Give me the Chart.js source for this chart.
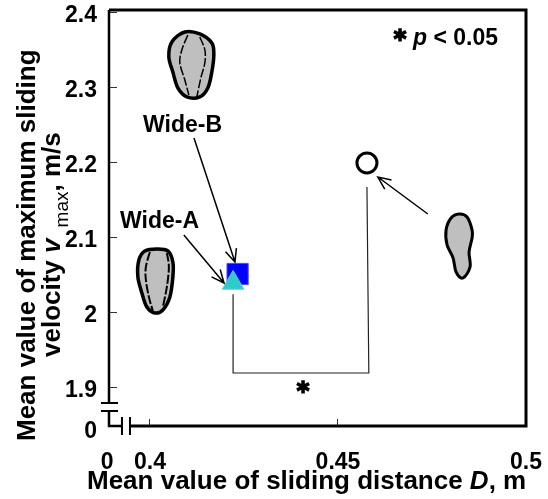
<!DOCTYPE html>
<html>
<head>
<meta charset="utf-8">
<title>Sliding distance and velocity</title>
<script src="https://cdn.jsdelivr.net/npm/chart.js@4/dist/chart.umd.min.js"></script>
<style>
html, body { margin: 0; padding: 0; background: #fff; }
canvas { display: block; }
</style>
</head>
<body>
<canvas id="chart" width="548" height="499"></canvas>
<script>
// values
const seriesNames = ["Wide-A", "Wide-B", "Narrow"];
const distance = [0.4221, 0.4233, 0.4577];
const velocity = [2.04, 2.052, 2.2];

const bracketX = [0.4221, 0.4221, 0.4582, 0.4577];
const bracketY = [2.025, 1.92, 1.92, 2.168];

// the lowest tick on both axes stands for 0, below the axis break
const xTickValues = [0.3886, 0.4, 0.45, 0.5];
const xTickLabels = ["0", "0.4", "0.45", "0.5"];
const yTickValues = [1.8447, 1.9, 2, 2.1, 2.2, 2.3, 2.4];
const yTickLabels = ["0", "1.9", "2", "2.1", "2.2", "2.3", "2.4"];

const xMin = 0.3891, xMax = 0.5;
const yMin = 1.8493, yMax = 2.404;
const xBreak = [0.39255, 0.39468];
const yBreak = [1.8693, 1.88];

const FONT = '"Liberation Sans", Arial, sans-serif';

// outlines of the footprints, offsets from the anchor
const shoeB = [[-2,-33],[13,-31],[25,-22],[27,-10],[25,7],[21,23],[13,32],[0,32],[-9,23],[-14,7],[-18,-8],[-15,-23]];
const shoeBLines = [[[1,-30],[-5,-15],[-7,-2],[-2,15],[2,30]], [[13,-28],[18,-15],[18,-2],[14,13],[10,32]]];
const shoeA = [[2,-32],[13,-30],[18,-19],[18,-4],[15,16],[8,29],[0,32],[-8,26],[-13,12],[-17,-4],[-16,-21],[-10,-30]];
const shoeALines = [[[-5,-29],[-9,-14],[-9,-1],[-6,16],[-2,30]], [[12,-28],[14,-14],[12,6],[8,26]]];
const shoeN = [[0,-31],[8,-28],[13,-15],[13,-7],[10,7],[11,22],[4,33],[-3,27],[-6,13],[-12,0],[-13,-15],[-8,-27]];

function closedCurve(ctx, x, y, pts) {
    const n = pts.length;
    ctx.beginPath();
    ctx.moveTo(x + pts[0][0], y + pts[0][1]);
    for (let i = 0; i < n; i++) {
        const p0 = pts[(i + n - 1) % n], p1 = pts[i], p2 = pts[(i + 1) % n], p3 = pts[(i + 2) % n];
        ctx.bezierCurveTo(
            x + p1[0] + (p2[0] - p0[0]) / 6, y + p1[1] + (p2[1] - p0[1]) / 6,
            x + p2[0] - (p3[0] - p1[0]) / 6, y + p2[1] - (p3[1] - p1[1]) / 6,
            x + p2[0], y + p2[1]);
    }
    ctx.closePath();
}

function openCurve(ctx, x, y, pts) {
    ctx.beginPath();
    ctx.moveTo(x + pts[0][0], y + pts[0][1]);
    for (let i = 0; i < pts.length - 1; i++) {
        const p0 = pts[Math.max(i - 1, 0)], p1 = pts[i], p2 = pts[i + 1], p3 = pts[Math.min(i + 2, pts.length - 1)];
        ctx.bezierCurveTo(
            x + p1[0] + (p2[0] - p0[0]) / 6, y + p1[1] + (p2[1] - p0[1]) / 6,
            x + p2[0] - (p3[0] - p1[0]) / 6, y + p2[1] - (p3[1] - p1[1]) / 6,
            x + p2[0], y + p2[1]);
    }
}

function drawShoe(ctx, x, y, outline, inner, width, innerWidth) {
    closedCurve(ctx, x, y, outline);
    ctx.fillStyle = "#bfbfbf";
    ctx.fill();
    ctx.strokeStyle = "#000";
    ctx.lineWidth = width;
    ctx.stroke();
    ctx.lineWidth = innerWidth;
    ctx.setLineDash([9, 2]);
    inner.forEach(line => {
        openCurve(ctx, x, y, line);
        ctx.stroke();
    });
    ctx.setLineDash([]);
}

function drawArrow(ctx, x1, y1, x2, y2) {
    const a = Math.atan2(y2 - y1, x2 - x1), len = 14, spread = 0.42;
    ctx.strokeStyle = "#000";
    ctx.lineWidth = 1.5;
    ctx.beginPath();
    ctx.moveTo(x1, y1);
    ctx.lineTo(x2, y2);
    ctx.moveTo(x2 - len * Math.cos(a - spread), y2 - len * Math.sin(a - spread));
    ctx.lineTo(x2, y2);
    ctx.lineTo(x2 - len * Math.cos(a + spread), y2 - len * Math.sin(a + spread));
    ctx.stroke();
}

// text made of several pieces with different fonts, starting at x,y
function drawRuns(ctx, runs, x, y) {
    ctx.textAlign = "left";
    ctx.textBaseline = "alphabetic";
    ctx.fillStyle = "#000";
    let pos = x;
    runs.forEach(r => {
        ctx.font = r.font;
        ctx.fillText(r.text, pos, y + (r.dy || 0));
        pos += ctx.measureText(r.text).width;
    });
}

// the asterisks are heavier than any installed glyph, so thicken them
function drawStar(ctx, x, y) {
    ctx.font = 'bold 24px "DejaVu Sans"';
    ctx.textAlign = "center";
    ctx.textBaseline = "alphabetic";
    ctx.fillStyle = "#000";
    ctx.strokeStyle = "#000";
    ctx.lineWidth = 1.6;
    ctx.fillText("*", x, y);
    ctx.strokeText("*", x, y);
}

const annotations = {
    id: "annotations",
    afterDatasetsDraw(chart) {
        const ctx = chart.ctx, sx = chart.scales.x, sy = chart.scales.y, area = chart.chartArea;
        const px = v => sx.getPixelForValue(v), py = v => sy.getPixelForValue(v);

        // frame with the two axis breaks
        ctx.save();
        ctx.strokeStyle = "#000";
        ctx.lineCap = "butt";
        ctx.lineWidth = 3;
        ctx.beginPath();
        ctx.moveTo(px(xBreak[1]), area.bottom);
        ctx.lineTo(area.right, area.bottom);
        ctx.moveTo(area.right, area.bottom + 1.5);
        ctx.lineTo(area.right, area.top - 1.5);
        ctx.moveTo(area.right + 1.5, area.top);
        ctx.lineTo(area.left, area.top);
        ctx.stroke();
        ctx.lineWidth = 2.5;
        ctx.beginPath();
        ctx.moveTo(area.left, area.top);
        ctx.lineTo(area.left, py(yBreak[1]));
        ctx.moveTo(area.left, py(yBreak[0]));
        ctx.lineTo(area.left, area.bottom);
        ctx.lineTo(px(xBreak[0]), area.bottom);
        ctx.stroke();
        ctx.lineWidth = 2;
        ctx.beginPath();
        yBreak.forEach(v => {
            ctx.moveTo(area.left - 8, py(v));
            ctx.lineTo(area.left + 9, py(v));
        });
        xBreak.forEach(v => {
            ctx.moveTo(px(v), area.bottom - 9);
            ctx.lineTo(px(v), area.bottom + 9);
        });
        ctx.stroke();

        drawShoe(ctx, px(0.4098), py(2.3307), shoeB, shoeBLines, 3.5, 1.5);
        drawShoe(ctx, px(0.4013), py(2.0427), shoeA, shoeALines, 3.5, 2);
        drawShoe(ctx, px(0.4822), py(2.0907), shoeN, [], 3, 1);

        drawArrow(ctx, px(0.4117), py(2.2333), px(0.4226), py(2.068));
        drawArrow(ctx, px(0.409), py(2.104), px(0.4197), py(2.04));
        drawArrow(ctx, px(0.4739), py(2.132), px(0.4606), py(2.1813));

        const bold = "bold 23px " + FONT;
        ctx.font = bold;
        ctx.fillStyle = "#000";
        ctx.textAlign = "left";
        ctx.textBaseline = "alphabetic";
        ctx.fillText("Wide-B", 143, 132);
        ctx.fillText("Wide-A", 120, 228);

        drawStar(ctx, 400, 47);
        drawRuns(ctx, [
            { text: "p", font: "italic bold 23px " + FONT },
            { text: " < 0.05", font: bold }
        ], 413, 45);
        drawStar(ctx, px(0.4407), 399);

        // axis titles
        drawRuns(ctx, [
            { text: "Mean value of sliding distance ", font: "bold 26px " + FONT },
            { text: "D", font: "italic bold 26px " + FONT },
            { text: ", m", font: "bold 26px " + FONT }
        ], 87, 489);

        ctx.save();
        ctx.translate(35, 441);
        ctx.rotate(-Math.PI / 2);
        drawRuns(ctx, [{ text: "Mean value of maximum sliding", font: "bold 26px " + FONT }], 0, 0);
        ctx.restore();

        ctx.save();
        ctx.translate(60, 357);
        ctx.rotate(-Math.PI / 2);
        drawRuns(ctx, [
            { text: "velocity ", font: "bold 26px " + FONT },
            { text: "v", font: "italic bold 26px " + FONT },
            { text: " ", font: "bold 40px " + FONT },
            { text: "max", font: "19px " + FONT, dy: 8 },
            { text: ", m/s", font: "bold 26px " + FONT }
        ], 0, 0);
        ctx.restore();
        ctx.restore();
    }
};

new Chart(document.getElementById("chart"), {
    type: "scatter",
    data: {
        datasets: [
            {
                label: seriesNames[0],
                data: [{ x: distance[0], y: velocity[0] }],
                pointStyle: "triangle", pointRadius: 12.5,
                backgroundColor: "#2fcbcb", borderColor: "#55d5d5", borderWidth: 1
            },
            {
                label: seriesNames[1],
                data: [{ x: distance[1], y: velocity[1] }],
                pointStyle: "rect", pointRadius: 15,
                backgroundColor: "#0000ff", borderColor: "#4a4aff", borderWidth: 1
            },
            {
                label: seriesNames[2],
                data: [{ x: distance[2], y: velocity[2] }],
                pointStyle: "circle", pointRadius: 10,
                backgroundColor: "#fff", borderColor: "#000", borderWidth: 3
            },
            {
                label: "p",
                data: bracketX.map((x, i) => ({ x: x, y: bracketY[i] })),
                showLine: true, pointRadius: 0,
                borderColor: "#222", borderWidth: 1.2, tension: 0
            }
        ]
    },
    options: {
        responsive: false,
        animation: false,
        layout: { autoPadding: false, padding: { top: 10, right: 22, left: 0, bottom: 0 } },
        plugins: { legend: { display: false }, tooltip: { enabled: false } },
        scales: {
            x: {
                type: "linear",
                min: xMin,
                max: xMax,
                afterBuildTicks: s => { s.ticks = xTickValues.map(v => ({ value: v })); },
                afterFit: s => { s.height = 73; s.paddingLeft = s.paddingRight = 0; },
                border: { display: false },
                grid: {
                    drawOnChartArea: false, tickLength: -7, tickWidth: 1,
                    tickColor: c => c.index === 0 ? "transparent" : "#333"
                },
                ticks: {
                    autoSkip: false, maxRotation: 0, padding: 30, color: "#000",
                    font: { family: FONT, size: 23, weight: "bold" },
                    callback: (v, i) => xTickLabels[i]
                }
            },
            y: {
                type: "linear",
                min: yMin,
                max: yMax,
                afterBuildTicks: s => { s.ticks = yTickValues.map(v => ({ value: v })); },
                afterFit: s => { s.width = 109; s.paddingTop = s.paddingBottom = 0; },
                border: { display: false },
                grid: {
                    drawOnChartArea: false, tickLength: -8, tickWidth: 1,
                    tickColor: c => c.index === 0 ? "transparent" : "#333"
                },
                ticks: {
                    autoSkip: false, padding: 20, labelOffset: 2.5, color: "#000",
                    font: { family: FONT, size: 23, weight: "bold" },
                    callback: (v, i) => yTickLabels[i]
                }
            }
        }
    },
    plugins: [annotations]
});
</script>
</body>
</html>
